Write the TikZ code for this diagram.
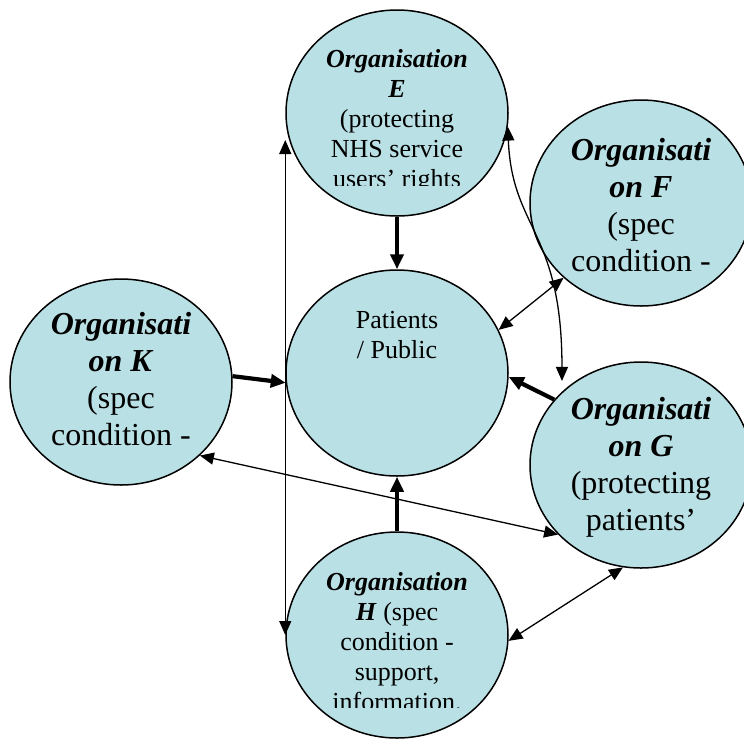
\documentclass[tikz,border=0pt]{standalone}
\usepackage{fontspec}
\setmainfont{Liberation Serif}
\usetikzlibrary{arrows.meta,shapes.geometric}
\definecolor{cOrg}{HTML}{B9E0E4}

\begin{document}
\begin{tikzpicture}[x=1pt, y=-1pt,
    org/.style={ellipse, draw=black, line width=1.5pt, fill=cOrg, minimum width=222pt, minimum height=206pt, inner sep=0pt},
    txt/.style={align=center, anchor=base, inner sep=0pt, font=\fontsize{26}{30}\selectfont},
    bigtxt/.style={align=center, anchor=base, inner sep=0pt, font=\fontsize{32}{36.7}\selectfont},
    arr/.style={-{Triangle[length=15pt,width=13pt]}, line width=4.2pt},
    darr/.style={{Triangle[length=14pt,width=12pt]}-{Triangle[length=14pt,width=12pt]}, line width=1.3pt},
]

\clip (0,0) rectangle (744,740);

% Circles
\node[org] (E) at (397,113) {};
\node[org] (F) at (641,203) {};
\node[org] (K) at (121,382) {};
\node[org] (P) at (397,373) {};
\node[org] (G) at (641,465) {};
\node[org] (H) at (397,635) {};

% Texts, placed by the baseline of their last line
% (the text boxes cut that line off for E and H)
\begin{scope}
  \clip (280,0) rectangle (515,185);
  \node[txt] (Etext) at (397,187) {\textbf{\textit{Organisation}}\\\textbf{\textit{E}}\\(protecting\\NHS service\\users’ rights};
\end{scope}
\node[bigtxt] (Ftext) at (641,271) {\textbf{\textit{Organisati}}\\\textbf{\textit{on F}}\\(spec\\condition -};
\node[bigtxt] (Ktext) at (121,445) {\textbf{\textit{Organisati}}\\\textbf{\textit{on K}}\\(spec\\condition -};
\node[txt] (Ptext) at (397,358) {Patients\\/ Public};
\node[bigtxt] (Gtext) at (641,530) {\textbf{\textit{Organisati}}\\\textbf{\textit{on G}}\\(protecting\\patients’};
\begin{scope}
  \clip (280,540) rectangle (515,707);
  \node[txt] (Htext) at (397,710) {\textbf{\textit{Organisation}}\\\textbf{\textit{H}} (spec\\condition -\\support,\\information.};
\end{scope}

% Into Patients / Public
\draw[arr] (E.south) -- (P.north);
\draw[arr] (H.north) -- (P.south);
\draw[arr] (K.3) -- (P.185);
\draw[arr] (G.143) -- (P.358);

% Between organisations
\draw[darr] ([yshift=-27pt]E.west) -- (H.west);
\draw[darr] (E.353) .. controls (512,230) and (562,230) .. ([shift={(-3pt,8pt)}]G.135);
\draw[darr] (F.224) -- (P.23);
\draw[darr] (K.317) -- (G.220);
\draw[darr] (H.357) -- (G.260);

\end{tikzpicture}
\end{document}
